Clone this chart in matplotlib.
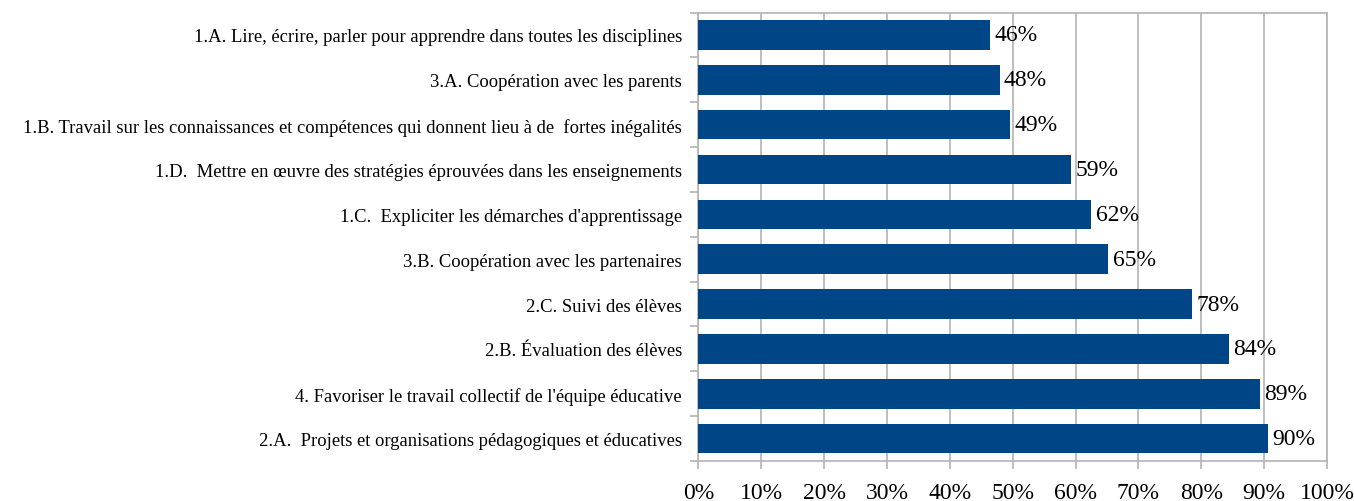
import matplotlib
matplotlib.use("Agg")
import matplotlib.pyplot as plt
from matplotlib.ticker import MultipleLocator, FuncFormatter

categories = [
    "1.A. Lire, écrire, parler pour apprendre dans toutes les disciplines",
    "3.A. Coopération avec les parents",
    "1.B. Travail sur les connaissances et compétences qui donnent lieu à de  fortes inégalités",
    "1.D.  Mettre en œuvre des stratégies éprouvées dans les enseignements",
    "1.C.  Expliciter les démarches d'apprentissage",
    "3.B. Coopération avec les partenaires",
    "2.C. Suivi des élèves",
    "2.B. Évaluation des élèves",
    "4. Favoriser le travail collectif de l'équipe éducative",
    "2.A.  Projets et organisations pédagogiques et éducatives",
]
values = [0.464, 0.479, 0.496, 0.593, 0.625, 0.652, 0.785, 0.844, 0.893, 0.906]
value_labels = ["46%", "48%", "49%", "59%", "62%", "65%", "78%", "84%", "89%", "90%"]

plt.rcParams['font.family'] = ['Liberation Serif', 'DejaVu Serif']

fig = plt.figure(figsize=(13.54, 5.02), dpi=100)
ax = fig.add_axes([698.5/1354, 1 - 462/502, 628.5/1354, 448.5/502])

n = len(categories)
ypos = list(range(n))[::-1]
ax.barh(ypos, values, height=0.66, color="#004586", zorder=3)
for y, v, lab in zip(ypos, values, value_labels):
    ax.text(v + 0.007, y, lab, va="center", ha="left", fontsize=17, color="#000000", zorder=4)

ax.set_xlim(0, 1)
ax.set_ylim(-0.5, n - 0.5)
ax.xaxis.set_major_locator(MultipleLocator(0.1))
ax.xaxis.set_major_formatter(FuncFormatter(lambda x, p: f"{int(round(x*100))}%"))
ax.set_yticks(ypos)
ax.set_yticklabels(categories, fontsize=13.4)
ax.tick_params(axis="y", length=0, pad=12)
ax.set_yticks([i - 0.5 for i in range(n + 1)], minor=True)
ax.tick_params(axis="y", which="minor", length=6, width=1.2, color="#b3b3b3", direction="out")
ax.tick_params(axis="x", length=6, width=1.2, color="#b3b3b3", labelsize=17, pad=9)
ax.grid(axis="x", color="#b3b3b3", linewidth=1.2, zorder=0)
for s in ax.spines.values():
    s.set_color("#b3b3b3")
    s.set_linewidth(1.2)

fig.savefig("out.png", dpi=100, facecolor="white")
